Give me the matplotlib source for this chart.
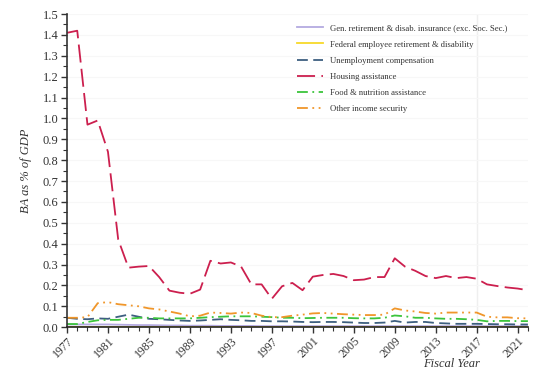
#Budget authority by income security subfunction, as % of GDP
import matplotlib
matplotlib.use("Agg")
import matplotlib.pyplot as plt
from matplotlib.ticker import MultipleLocator, FixedLocator

years = list(range(1977, 2023))

gen_retirement = [0.013, 0.013, 0.013, 0.013, 0.013, 0.012, 0.011, 0.010, 0.010, 0.009,
	0.008, 0.008, 0.007, 0.007, 0.007, 0.006, 0.006, 0.006, 0.006, 0.005,
	0.005, 0.005, 0.005, 0.005, 0.005, 0.005, 0.005, 0.005, 0.005, 0.005,
	0.005, 0.005, 0.005, 0.005, 0.005, 0.005, 0.005, 0.005, 0.005, 0.005,
	0.005, 0.005, 0.005, 0.005, 0.005, 0.005]
fed_employee = [0.003] * 46
unemployment = [0.045, 0.040, 0.038, 0.042, 0.040, 0.050, 0.060, 0.050, 0.040, 0.038,
	0.035, 0.032, 0.030, 0.032, 0.035, 0.038, 0.035, 0.033, 0.030, 0.030,
	0.028, 0.028, 0.027, 0.025, 0.024, 0.025, 0.025, 0.024, 0.022, 0.020,
	0.020, 0.022, 0.030, 0.022, 0.025, 0.025, 0.020, 0.018, 0.016, 0.016,
	0.016, 0.015, 0.014, 0.014, 0.013, 0.013]
housing = [1.41, 1.42, 0.97, 0.99, 0.84, 0.42, 0.285, 0.29, 0.293, 0.24,
	0.175, 0.165, 0.16, 0.18, 0.318, 0.305, 0.31, 0.29, 0.205, 0.205,
	0.136, 0.196, 0.212, 0.177, 0.242, 0.25, 0.255, 0.245, 0.225, 0.228,
	0.24, 0.24, 0.33, 0.29, 0.27, 0.245, 0.235, 0.245, 0.235, 0.24,
	0.232, 0.205, 0.197, 0.19, 0.185, 0.177]
food = [0.015, 0.015, 0.025, 0.033, 0.035, 0.035, 0.040, 0.045, 0.045, 0.042,
	0.042, 0.042, 0.042, 0.045, 0.048, 0.050, 0.052, 0.052, 0.052, 0.050,
	0.048, 0.045, 0.045, 0.043, 0.044, 0.045, 0.045, 0.045, 0.043, 0.042,
	0.042, 0.045, 0.056, 0.052, 0.045, 0.045, 0.042, 0.040, 0.040, 0.038,
	0.035, 0.028, 0.030, 0.030, 0.029, 0.029]
other_income = [0.045, 0.045, 0.048, 0.115, 0.120, 0.110, 0.105, 0.100, 0.090, 0.085,
	0.075, 0.065, 0.052, 0.055, 0.070, 0.068, 0.065, 0.070, 0.068, 0.055,
	0.048, 0.048, 0.055, 0.060, 0.066, 0.068, 0.065, 0.062, 0.060, 0.058,
	0.058, 0.060, 0.090, 0.080, 0.075, 0.068, 0.065, 0.070, 0.070, 0.070,
	0.070, 0.050, 0.047, 0.047, 0.043, 0.042]

labels = ["Gen. retirement & disab. insurance (exc. Soc. Sec.)",
	"Federal employee retirement & disability",
	"Unemployment compensation",
	"Housing assistance",
	"Food & nutrition assistance",
	"Other income security"]

plt.rcParams['font.family'] = ['Liberation Serif', 'DejaVu Serif']

fig = plt.figure(figsize=(5.42, 3.84), dpi=100)
ax = fig.add_axes([0.1236, 0.148, 0.8504, 0.8155])

ax.plot(years, gen_retirement, color="#b4aae0", lw=1.3, label=labels[0])
ax.plot(years, fed_employee, color="#f7d92a", lw=1.3, label=labels[1])
ax.plot(years, unemployment, color="#3e5f80", lw=1.3, dashes=(6, 3), label=labels[2])
ax.plot(years, housing, color="#cc1f4e", lw=1.3, dashes=(10, 3.5), label=labels[3])
ax.plot(years, food, color="#3cc43c", lw=1.3, dashes=(6, 2.5, 1, 2.5), label=labels[4])
ax.plot(years, other_income, color="#f0962a", lw=1.3, dashes=(6, 2.5, 1, 2.5, 1, 2.5), label=labels[5])

ax.axvline(2017, color="#efefef", lw=1, zorder=0)
for v in [i / 10 for i in range(1, 16)]:
	ax.axhline(v, color="#f7f7f7", lw=0.8, zorder=0)

ax.set_xlim(1977, 2022)
ax.set_ylim(0, 1.5)
ax.xaxis.set_major_locator(FixedLocator(list(range(1977, 2023, 4))))
ax.xaxis.set_minor_locator(MultipleLocator(1))
ax.yaxis.set_minor_locator(MultipleLocator(0.05))
ax.set_yticks([i / 10 for i in range(16)])
ax.set_yticklabels(["%.1f" % (i / 10) for i in range(16)])
ax.tick_params(axis='y', which='major', labelsize=9, length=4, width=1, colors="#333333", pad=2)
ax.tick_params(axis='x', which='major', labelsize=8.5, length=4, width=1, colors="#333333", pad=1.5)
ax.tick_params(axis='both', which='minor', length=3, width=0.8, colors="#333333")
for lab in ax.get_xticklabels():
	lab.set_rotation(45)
	lab.set_ha("right")
	lab.set_rotation_mode("anchor")

ax.spines['top'].set_visible(False)
ax.spines['right'].set_visible(False)
ax.spines['left'].set_color("#333333")
ax.spines['bottom'].set_color("#222222")
ax.spines['left'].set_linewidth(1.2)
ax.spines['bottom'].set_linewidth(1.2)

ax.set_ylabel("BA as % of GDP", fontsize=9, style="italic", color="#333333", labelpad=8)
ax.set_xlabel("Fiscal Year", fontsize=9, style="italic", color="#333333")
ax.xaxis.set_label_coords(0.835, -0.097)

leg = ax.legend(loc="upper left", bbox_to_anchor=(0.482, 0.992), frameon=False,
	fontsize=6.2, handlelength=3.0, labelspacing=0.95, handletextpad=0.8)
for t in leg.get_texts():
	t.set_color("#333333")

plt.savefig("out.png", dpi=100)
plt.close()
